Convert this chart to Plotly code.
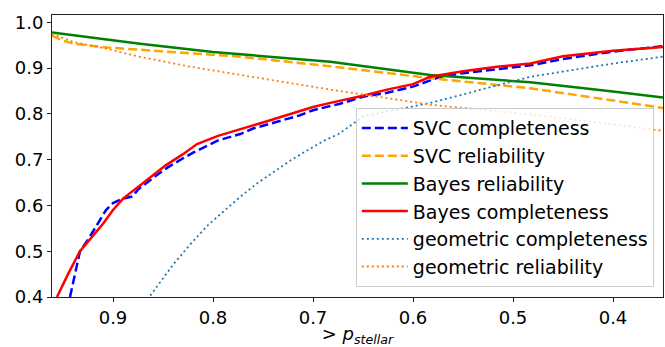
import plotly.graph_objects as go

# SVC completeness (blue dashed)
svc_comp_p = [0.943, 0.938, 0.933, 0.925, 0.915, 0.907, 0.900, 0.890, 0.880, 0.875, 0.860, 0.846, 0.830, 0.8194,
              0.795, 0.7727, 0.760, 0.746, 0.730, 0.713, 0.700, 0.673, 0.649, 0.626, 0.5994, 0.5727, 0.550, 0.516,
              0.4827, 0.450, 0.400, 0.350]
svc_comp_v = [0.400, 0.450, 0.500, 0.525, 0.560, 0.590, 0.605, 0.615, 0.620, 0.635, 0.660, 0.682, 0.703, 0.716,
              0.742, 0.756, 0.768, 0.777, 0.787, 0.797, 0.808, 0.822, 0.838, 0.846, 0.860, 0.881, 0.889, 0.898,
              0.906, 0.920, 0.936, 0.948]

# SVC reliability (orange dashed)
svc_rel_p = [0.961, 0.950, 0.939, 0.906, 0.873, 0.823, 0.773, 0.6827, 0.5827, 0.4827, 0.400, 0.350]
svc_rel_v = [0.971, 0.960, 0.953, 0.945, 0.940, 0.933, 0.925, 0.904, 0.878, 0.856, 0.830, 0.813]

# Bayes reliability (green)
bay_rel_p = [0.961, 0.900, 0.873, 0.800, 0.773, 0.6827, 0.5827, 0.4827, 0.400, 0.350]
bay_rel_v = [0.978, 0.960, 0.953, 0.935, 0.930, 0.914, 0.885, 0.869, 0.849, 0.836]

# Bayes completeness (red)
bay_comp_p = [0.956, 0.945, 0.933, 0.920, 0.910, 0.900, 0.890, 0.8727, 0.856, 0.8477, 0.830, 0.816, 0.795,
              0.7727, 0.746, 0.7194, 0.700, 0.6827, 0.649, 0.626, 0.600, 0.5827, 0.550, 0.516, 0.4827, 0.450,
              0.400, 0.350]
bay_comp_v = [0.400, 0.450, 0.500, 0.535, 0.560, 0.590, 0.615, 0.644, 0.673, 0.687, 0.712, 0.734, 0.752,
              0.766, 0.784, 0.802, 0.815, 0.824, 0.840, 0.853, 0.865, 0.881, 0.893, 0.903, 0.910, 0.926,
              0.938, 0.946]

# geometric completeness (C0 dotted)
geo_comp_p = [0.8627, 0.8394, 0.8227, 0.806, 0.7894, 0.7727, 0.756, 0.7394, 0.7227, 0.706, 0.6894, 0.6744,
              0.6494, 0.5827, 0.4827, 0.400, 0.350]
geo_comp_v = [0.403, 0.472, 0.515, 0.555, 0.587, 0.619, 0.648, 0.673, 0.698, 0.720, 0.741, 0.756,
              0.795, 0.824, 0.881, 0.910, 0.925]

# geometric reliability (C1 dotted)
geo_rel_p = [0.961, 0.9394, 0.906, 0.8727, 0.8227, 0.7727, 0.6827, 0.5827, 0.4827, 0.400, 0.350]
geo_rel_v = [0.975, 0.957, 0.942, 0.9245, 0.903, 0.885, 0.853, 0.820, 0.799, 0.777, 0.763]

fig = go.Figure()
fig.add_trace(go.Scatter(x=svc_comp_p, y=svc_comp_v, mode="lines", name="SVC completeness",
                         line=dict(color="#0000ff", width=2.5, dash="9px,4px")))
fig.add_trace(go.Scatter(x=svc_rel_p, y=svc_rel_v, mode="lines", name="SVC reliability",
                         line=dict(color="#ffa500", width=2.5, dash="9px,4px")))
fig.add_trace(go.Scatter(x=bay_rel_p, y=bay_rel_v, mode="lines", name="Bayes reliability",
                         line=dict(color="#008000", width=2.5)))
fig.add_trace(go.Scatter(x=bay_comp_p, y=bay_comp_v, mode="lines", name="Bayes completeness",
                         line=dict(color="#ff0000", width=2.5)))
fig.add_trace(go.Scatter(x=geo_comp_p, y=geo_comp_v, mode="lines", name="geometric completeness",
                         line=dict(color="#1f77b4", width=1.8, dash="2px,3px")))
fig.add_trace(go.Scatter(x=geo_rel_p, y=geo_rel_v, mode="lines", name="geometric reliability",
                         line=dict(color="#ff7f0e", width=1.8, dash="2px,3px")))

axis_common = dict(showline=True, linecolor="#222", linewidth=1, mirror=True, ticks="outside",
                   ticklen=4, tickcolor="#222", showgrid=False, zeroline=False,
                   tickfont=dict(family="DejaVu Sans", size=18, color="black"))

fig.update_layout(
    width=665, height=347,
    margin=dict(l=52, r=2, t=15, b=50),
    paper_bgcolor="white", plot_bgcolor="white",
    xaxis=dict(range=[0.961, 0.35], tickvals=[0.9, 0.8, 0.7, 0.6, 0.5, 0.4],
               ticktext=["0.9", "0.8", "0.7", "0.6", "0.5", "0.4"],
               title=dict(text="> <i>p</i><sub><i>stellar</i></sub>",
                          font=dict(family="DejaVu Sans", size=18, color="black"), standoff=4),
               **axis_common),
    yaxis=dict(range=[0.4, 1.016], tickvals=[0.4, 0.5, 0.6, 0.7, 0.8, 0.9, 1.0],
               ticktext=["0.4", "0.5", "0.6", "0.7", "0.8", "0.9", "1.0"], **axis_common),
    legend=dict(x=0.985, y=0.035, xanchor="right", yanchor="bottom",
                bgcolor="rgba(255,255,255,0.8)", bordercolor="#cccccc", borderwidth=1,
                font=dict(family="DejaVu Sans", size=19, color="black"), itemwidth=46),
    showlegend=True,
)

fig.write_html("out.html")
